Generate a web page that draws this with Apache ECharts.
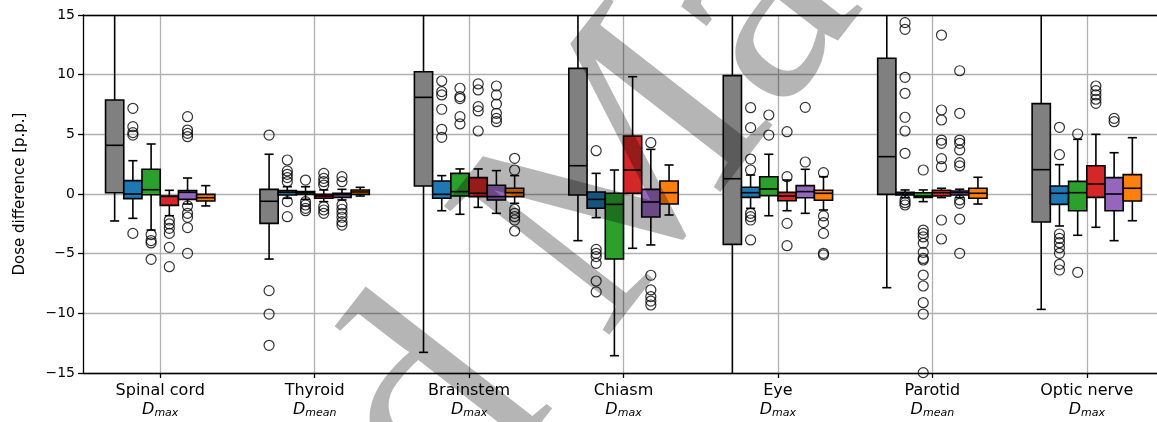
<!DOCTYPE html>
<html>
<head>
<meta charset="utf-8">
<script src="https://cdn.jsdelivr.net/npm/echarts@6/dist/echarts.min.js"></script>
<style>
  html, body { margin: 0; padding: 0; background: #fff; }
  #chart { width: 1157px; height: 422px; }
</style>
</head>
<body>
<div id="chart"></div>
<script>
// Organs at risk and the dose metric evaluated for each
const structures = ['Spinal cord', 'Thyroid', 'Brainstem', 'Chiasm', 'Eye', 'Parotid', 'Optic nerve'];
const metrics = ['max', 'mean', 'max', 'max', 'max', 'mean', 'max'];
const yTicks = [-15, -10, -5, 0, 5, 10, 15];

// Box statistics per structure: [lower whisker, Q1, median, Q3, upper whisker]
const grayStats = [
  [-2.26, 0.11, 4.08, 7.88, 18.5],
  [-5.45, -2.46, -0.61, 0.39, 3.33],
  [-13.27, 0.67, 8.1, 10.25, 24],
  [-3.91, -0.08, 2.37, 10.53, 22],
  [-16.5, -4.22, 1.28, 9.92, 20],
  [-7.85, -0.03, 3.13, 11.37, 23],
  [-9.67, -2.35, 2.04, 7.57, 18]
];
const blueStats = [
  [-2.04, -0.39, 0.0, 1.12, 2.79],
  [-0.36, -0.08, 0.14, 0.28, 0.61],
  [-1.4, -0.36, -0.03, 1.09, 1.54],
  [-1.98, -1.2, -0.45, 0.17, 1.73],
  [-1.2, -0.28, 0.11, 0.56, 1.59],
  [-0.3, -0.08, 0.0, 0.14, 0.34],
  [-2.68, -0.87, 0.06, 0.67, 2.46]
];
const greenStats = [
  [-3.02, -0.06, 0.36, 2.07, 4.19],
  [-0.45, -0.03, 0.1, 0.2, 0.61],
  [-1.7, -0.17, 0.2, 1.73, 2.1],
  [-13.55, -5.45, -0.87, 0.06, 2.01],
  [-1.82, -0.14, 0.42, 1.45, 3.33],
  [-0.64, -0.28, -0.17, 0.11, 0.34],
  [-3.46, -1.4, 0.11, 1.06, 4.58]
];
const redStats = [
  [-1.82, -0.95, -0.2, -0.17, 0.31],
  [-0.64, -0.36, -0.17, -0.03, 0.34],
  [-1.12, -0.22, 0.06, 1.37, 2.1],
  [-4.55, 0.06, 2.01, 4.86, 9.83],
  [-1.4, -0.56, -0.17, 0.14, 1.17],
  [-0.3, -0.17, 0.11, 0.31, 0.48],
  [-2.79, -0.28, 0.84, 2.37, 5.0]
];
const purpleStats = [
  [-0.84, -0.45, 0.14, 0.28, 1.34],
  [-0.5, -0.28, -0.06, 0.06, 0.39],
  [-1.62, -0.5, -0.22, 0.73, 1.96],
  [-4.27, -1.93, -0.67, 0.39, 3.74],
  [-1.62, -0.31, 0.2, 0.7, 2.07],
  [-0.3, -0.08, 0.11, 0.25, 0.4],
  [-3.91, -1.4, 0.0, 1.37, 3.46]
];
const orangeStats = [
  [-1.0, -0.59, -0.31, -0.03, 0.7],
  [-0.17, -0.03, 0.17, 0.34, 0.56],
  [-0.78, -0.22, 0.11, 0.48, 1.54],
  [-1.76, -0.84, 0.11, 1.09, 2.43],
  [-1.34, -0.53, 0.06, 0.31, 1.45],
  [-0.84, -0.36, 0.06, 0.48, 1.4],
  [-2.24, -0.59, 0.48, 1.62, 4.72]
];

// Outliers per structure
const grayOutliers = [[], [4.94, -8.1, -10.06, -12.68], [], [], [], [], []];
const blueOutliers = [
  [7.18, 5.64, 5.14, 4.94, -3.3],
  [2.85, 1.93, 1.65, 1.37, 1.03, -0.64, -1.9],
  [9.47, 8.58, 8.3, 7.1, 5.42, 4.75],
  [3.63, -4.64, -4.97, -5.25, -5.81, -7.29, -8.21],
  [7.23, 5.56, 2.93, 2.01, -1.62, -1.9, -2.18, -3.85],
  [14.36, 13.8, 9.78, 8.44, 6.43, 5.28, 3.41, -0.5, -0.73, -0.92],
  [5.59, 3.3, -3.35, -3.72, -4.08, -4.5, -4.97, -5.89, -6.37]
];
const greenOutliers = [
  [-3.4, -3.9, -4.1, -5.47],
  [1.17, -0.64, -0.92, -1.2, -1.4],
  [8.86, 8.16, 8.0, 6.48, 5.87],
  [],
  [6.62, 4.94],
  [2.01, -3.02, -3.3, -3.6, -4.13, -4.89, -5.4, -5.53, -6.79, -7.71, -9.11, -10.06, -14.97],
  [5.03, -6.56]
];
const redOutliers = [
  [-2.18, -2.51, -2.88, -3.3, -4.47, -6.09],
  [1.73, 1.31, 1.03, 0.75, -1.06, -1.34, -1.62],
  [9.22, 8.72, 7.32, 6.96, 5.28],
  [],
  [5.22, 1.45, -2.46, -4.33],
  [13.32, 7.04, 6.2, 4.52, 4.25, 2.96, 2.29, -2.18, -3.77],
  [9.05, 8.66, 8.3, 7.94, 7.6]
];
const purpleOutliers = [
  [6.48, 5.36, 5.08, 4.8, -1.0, -1.62, -1.95, -2.82, -4.97],
  [1.45, 1.03, -0.92, -1.28, -1.62, -1.95, -2.32, -2.6],
  [9.05, 8.3, 7.54, 6.76, 6.34, 6.06],
  [4.3, -6.81, -8.04, -8.6, -8.97, -9.3],
  [7.26, 2.68],
  [10.33, 6.76, 4.52, 4.25, 3.69, 2.63, 2.35, -0.5, -0.78, -2.1, -4.97],
  [6.34, 6.06]
];
const orangeOutliers = [
  [],
  [],
  [2.99, 2.01, -1.28, -1.62, -1.9, -2.18, -3.1],
  [],
  [1.79, -1.84, -2.4, -3.3, -4.97, -5.1],
  [],
  []
];

const groups = [
  { stats: grayStats, outliers: grayOutliers, color: '#808080' },
  { stats: blueStats, outliers: blueOutliers, color: '#1f77b4' },
  { stats: greenStats, outliers: greenOutliers, color: '#2ca02c' },
  { stats: redStats, outliers: redOutliers, color: '#d62728' },
  { stats: purpleStats, outliers: purpleOutliers, color: '#9467bd' },
  { stats: orangeStats, outliers: orangeOutliers, color: '#ff7f0e' }
];

const BOX_W = 0.118;      // box width in category units
const LINE_W = 1.6;
const FONT = '"DejaVu Sans", sans-serif';

function renderBox(params, api) {
  const x = api.value(0);
  const lo = api.value(1), q1 = api.value(2), med = api.value(3), q3 = api.value(4), hi = api.value(5);
  const cs = params.coordSys;
  const top = cs.y, bottom = cs.y + cs.height;
  const clampY = (py) => Math.max(top, Math.min(bottom, py));
  const cx = api.coord([x, 0])[0];
  const w = api.size([BOX_W, 0])[0];
  const py = (v) => api.coord([x, v])[1];
  const ls = { stroke: '#000', lineWidth: LINE_W };
  const kids = [];
  kids.push({ type: 'line', shape: { x1: cx, y1: clampY(py(q3)), x2: cx, y2: clampY(py(hi)) }, style: ls });
  kids.push({ type: 'line', shape: { x1: cx, y1: clampY(py(q1)), x2: cx, y2: clampY(py(lo)) }, style: ls });
  if (py(hi) >= top) {
    kids.push({ type: 'line', shape: { x1: cx - w / 4, y1: py(hi), x2: cx + w / 4, y2: py(hi) }, style: ls });
  }
  if (py(lo) <= bottom) {
    kids.push({ type: 'line', shape: { x1: cx - w / 4, y1: py(lo), x2: cx + w / 4, y2: py(lo) }, style: ls });
  }
  kids.push({
    type: 'rect',
    shape: { x: cx - w / 2, y: py(q3), width: w, height: py(q1) - py(q3) },
    style: { fill: api.visual('color'), stroke: '#000', lineWidth: LINE_W }
  });
  kids.push({ type: 'line', shape: { x1: cx - w / 2, y1: py(med), x2: cx + w / 2, y2: py(med) }, style: ls });
  return { type: 'group', children: kids };
}

const series = [];
groups.forEach((g, k) => {
  const off = (k - 2.5) * BOX_W;
  series.push({
    type: 'custom',
    renderItem: renderBox,
    clip: true,
    itemStyle: { color: g.color },
    encode: { x: 0, y: [1, 2, 3, 4, 5] },
    data: g.stats.map((s, i) => [i + 1 + off].concat(s)),
    z: 3
  });
});
groups.forEach((g, k) => {
  const off = (k - 2.5) * BOX_W;
  const pts = [];
  g.outliers.forEach((vals, i) => vals.forEach((v) => pts.push([i + 1 + off, v])));
  series.push({
    type: 'scatter',
    data: pts,
    symbol: 'circle',
    symbolSize: 10,
    clip: true,
    itemStyle: { color: 'rgba(0,0,0,0)', borderColor: '#000', borderWidth: 1.2 },
    z: 4
  });
});

const spine = { color: '#000', width: 1.3 };
const chart = echarts.init(document.getElementById('chart'), null, { renderer: 'canvas' });
chart.setOption({
  animation: false,
  backgroundColor: '#fff',
  grid: { left: 83, top: 15, bottom: 49, width: 1081, outerBoundsMode: 'none', containLabel: false },
  xAxis: [{
    type: 'value',
    min: 0.5,
    max: 7.5,
    axisLine: { show: true, onZero: false, lineStyle: spine },
    axisTick: { show: true, length: 5, customValues: structures.map((_, i) => i + 1), lineStyle: spine },
    splitLine: { show: true, lineStyle: { color: '#b0b0b0', width: 1.3 } },
    axisLabel: {
      customValues: structures.map((_, i) => i + 1),
      margin: 8,
      color: '#000',
      fontFamily: FONT,
      fontSize: 16,
      lineHeight: 19,
      formatter: (v) => {
        const i = Math.round(v) - 1;
        return structures[i] + '\n{d|D}{s|' + metrics[i] + '}';
      },
      rich: {
        d: { fontFamily: FONT, fontStyle: 'italic', fontSize: 16, lineHeight: 19, color: '#000' },
        s: { fontFamily: FONT, fontStyle: 'italic', fontSize: 11, lineHeight: 13, verticalAlign: 'bottom', color: '#000' }
      }
    }
  }, {
    // top spine
    type: 'value',
    position: 'top',
    min: 0.5,
    max: 7.5,
    axisLine: { show: true, onZero: false, lineStyle: spine },
    axisTick: { show: false },
    axisLabel: { show: false },
    splitLine: { show: false }
  }],
  yAxis: {
    type: 'value',
    min: yTicks[0],
    max: yTicks[yTicks.length - 1],
    interval: 5,
    name: 'Dose difference [p.p.]',
    nameLocation: 'middle',
    nameGap: 55,
    nameTextStyle: { color: '#000', fontFamily: FONT, fontSize: 15 },
    axisLine: { show: true, lineStyle: spine },
    axisTick: { show: true, length: 5, lineStyle: spine },
    splitLine: { show: true, lineStyle: { color: '#b0b0b0', width: 1.3 } },
    axisLabel: {
      color: '#000', fontFamily: FONT, fontSize: 14, margin: 8,
      formatter: (v) => (v < 0 ? '\u2212' + Math.abs(v) : String(v))
    }
  },
  graphic: [{
    type: 'text',
    id: 'watermark',
    x: 390, y: 480,
    rotation: 0.91,
    silent: true,
    z: 100,
    style: {
      text: 'd Ma',
      font: '320px "Liberation Serif", serif',
      fill: 'rgba(0,0,0,0.29)',
      textAlign: 'left',
      textVerticalAlign: 'middle',
      align: 'left',
      verticalAlign: 'middle'
    }
  }],
  series: series
});
</script>
</body>
</html>
